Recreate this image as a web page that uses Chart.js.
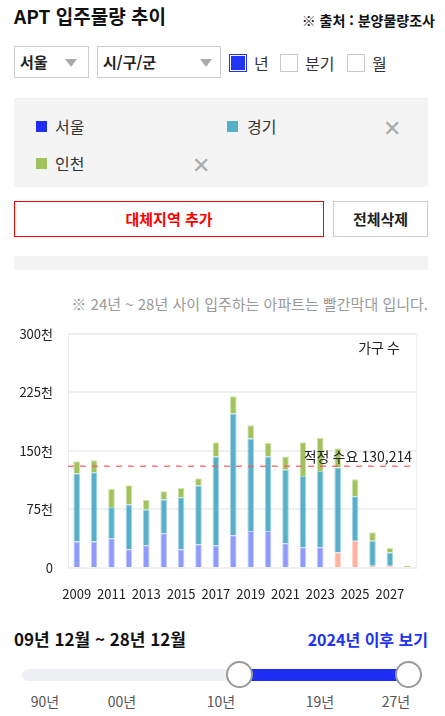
<!DOCTYPE html>
<html lang="ko">
<head>
<meta charset="utf-8">
<title>APT 입주물량 추이</title>
<script src="https://cdn.jsdelivr.net/npm/chart.js@4"></script>
<style>
  body { margin: 0; width: 445px; height: 716px; position: relative; background: #fff;
    font-family: "Noto Sans CJK KR", "Noto Sans", sans-serif; color: #222; overflow: hidden; }
  .abs { position: absolute; }
  .title { left: 14px; top: 2px; font-size: 19px; font-weight: bold; color: #111; }
  .source { right: 10px; top: 10px; font-size: 14px; font-weight: bold; color: #111; }
  .select { border: 1px solid #ccc; height: 32px; top: 46px; box-sizing: border-box; font-size: 15px;
    font-weight: bold; line-height: 30px; padding-left: 5px; }
  .arrow { position: absolute; top: 12px; width: 0; height: 0; border-left: 6px solid transparent;
    border-right: 6px solid transparent; border-top: 8px solid #aaa; }
  .chk { top: 54px; width: 18px; height: 18px; box-sizing: border-box; border: 1px solid #c8c8c8; background: #fff; }
  .chk.on { border: 1px solid #2235f5; background: #2235f5; box-shadow: inset 0 0 0 1px #fff; }
  .chklbl { top: 51px; font-size: 16px; color: #333; }
  .box { left: 14px; width: 414px; background: #f4f4f4; }
  .sq { width: 11px; height: 11px; }
  .lg { font-size: 16px; color: #333; }
  .x { font-size: 22px; color: #aaa; font-weight: 300; }
  .btn { top: 201px; height: 36px; box-sizing: border-box; text-align: center; line-height: 33px;
    font-size: 15px; font-weight: bold; }
  .note { right: 17px; top: 293px; font-size: 15px; color: #999; }
  .range { left: 14px; top: 626px; font-size: 17px; font-weight: bold; color: #111; }
  .after { right: 17px; top: 627px; font-size: 16px; font-weight: bold; color: #2033f0; }
  .track { left: 22px; top: 669px; width: 398px; height: 12px; border-radius: 6px; background: #eef0f3; }
  .fill { left: 240px; top: 669px; width: 168px; height: 12px; background: #1f2ef5; }
  .knob { width: 27px; height: 27px; border-radius: 50%; box-sizing: border-box; border: 2px solid #999;
    background: #fff; top: 661px; }
  .tk { top: 691px; font-size: 14px; color: #555; transform: translateX(-50%); }
  #wrap { position: absolute; left: 0; top: 311px; width: 445px; height: 294px; }
</style>
</head>
<body>
<div class="abs title">APT 입주물량 추이</div>
<div class="abs source">※ 출처 : 분양물량조사</div>

<div class="abs select" style="left:14px;width:75px;">서울<span class="arrow" style="left:50px"></span></div>
<div class="abs select" style="left:97px;width:124px;">시/구/군<span class="arrow" style="left:102px"></span></div>
<div class="abs chk on" style="left:229px"></div><div class="abs chklbl" style="left:254px">년</div>
<div class="abs chk" style="left:280px"></div><div class="abs chklbl" style="left:305px">분기</div>
<div class="abs chk" style="left:347px"></div><div class="abs chklbl" style="left:372px">월</div>

<div class="abs" style="left:14px;top:98px;width:414px;height:1px;background:#eee"></div>
<div class="abs box" style="top:99px;height:88px"></div>
<div class="abs sq" style="left:36px;top:121px;background:#1f2ef5"></div>
<div class="abs lg" style="left:55px;top:114px">서울</div>
<div class="abs sq" style="left:227px;top:121px;background:#58afc8"></div>
<div class="abs lg" style="left:247px;top:114px">경기</div>
<div class="abs x" style="left:383px;top:110px">✕</div>
<div class="abs sq" style="left:36px;top:158px;background:#a2c25c"></div>
<div class="abs lg" style="left:55px;top:151px">인천</div>
<div class="abs x" style="left:192px;top:147px">✕</div>

<div class="abs btn" style="left:14px;width:310px;border:1px solid #f00;color:#f00">대체지역 추가</div>
<div class="abs btn" style="left:333px;width:95px;border:1px solid #ccc;color:#222">전체삭제</div>
<div class="abs box" style="top:256px;height:14px"></div>

<div class="abs note">※ 24년 ~ 28년 사이 입주하는 아파트는 빨간막대 입니다.</div>

<div id="wrap"><canvas id="chart"></canvas></div>

<div class="abs range">09년 12월 ~ 28년 12월</div>
<div class="abs after">2024년 이후 보기</div>
<div class="abs track"></div>
<div class="abs fill"></div>
<div class="abs knob" style="left:226px"></div>
<div class="abs knob" style="left:395px"></div>
<div class="abs tk" style="left:45px">90년</div>
<div class="abs tk" style="left:122px">00년</div>
<div class="abs tk" style="left:221px">10년</div>
<div class="abs tk" style="left:320px">19년</div>
<div class="abs tk" style="left:396px">27년</div>

<script>
var years = ["2009", "2010", "2011", "2012", "2013", "2014", "2015", "2016", "2017", "2018",
  "2019", "2020", "2021", "2022", "2023", "2024", "2025", "2026", "2027", "2028"];
var seoul = [33800, 33800, 38000, 24000, 29000, 44500, 24000, 30400, 29000, 42000,
  47500, 47500, 31700, 26600, 26600, 19700, 35000, 3000, 3000, 0];
var gyeonggi = [87200, 88900, 40200, 57300, 46000, 43200, 66600, 75200, 113800, 156000,
  118500, 95300, 94300, 91400, 97800, 109000, 57000, 32000, 16700, 0];
var incheon = [15800, 15300, 23100, 24700, 12000, 10600, 12000, 9400, 18200, 22000,
  16700, 17200, 16800, 43000, 42600, 24800, 21700, 10800, 5900, 3000];
var demand = 130214;
var futureFrom = 2024;

Chart.defaults.font.family = "'Noto Sans CJK KR', 'Noto Sans', sans-serif";
Chart.defaults.color = "#222";

// seoul bars turn red for the years still to come
var seoulFill = years.map(function (y) { return +y >= futureFrom ? "#ffb3a2" : "#8e9bfa"; });
var seoulLine = years.map(function (y) { return +y >= futureFrom ? "#ffd6cc" : "#c6cdfc"; });

var extras = {
  id: "extras",
  afterDatasetsDraw: function (c) {
    var ctx = c.ctx;
    var a = c.chartArea;
    var y = c.scales.y.getPixelForValue(demand);
    ctx.save();
    ctx.strokeStyle = "#eeeeee";
    ctx.lineWidth = 1;
    ctx.strokeRect(a.left + 0.5, a.top + 0.5, a.right - a.left, a.bottom - a.top);
    ctx.strokeStyle = "rgba(238, 90, 90, 0.8)";
    ctx.lineWidth = 1.5;
    ctx.setLineDash([6, 6]);
    ctx.beginPath();
    ctx.moveTo(a.left, y);
    ctx.lineTo(a.right, y);
    ctx.stroke();
    ctx.setLineDash([]);
    ctx.fillStyle = "#222";
    ctx.font = "14px 'Noto Sans CJK KR', sans-serif";
    ctx.textAlign = "right";
    ctx.textBaseline = "bottom";
    ctx.fillText("적정 수요 " + demand.toLocaleString("en-US"), a.right - 4, y - 3);
    ctx.textBaseline = "top";
    ctx.fillText("가구 수", a.right - 16, a.top + 7);
    ctx.restore();
  },
};

var chart = new Chart(document.getElementById("chart"), {
  type: "bar",
  data: {
    labels: years,
    datasets: [
      { label: "서울", data: seoul, backgroundColor: seoulFill, borderColor: seoulLine, borderWidth: 1 },
      { label: "경기", data: gyeonggi, backgroundColor: "#58afc8", borderColor: "#a8d6e4", borderWidth: 1 },
      { label: "인천", data: incheon, backgroundColor: "#a2c25c", borderColor: "#d2e2ae", borderWidth: 1 },
    ],
  },
  options: {
    responsive: true,
    maintainAspectRatio: false,
    animation: false,
    layout: { padding: { top: 5, right: 29, left: 0, bottom: 0 } },
    datasets: { bar: { categoryPercentage: 1, barPercentage: 0.38 } },
    plugins: { legend: { display: false }, tooltip: { enabled: false } },
    scales: {
      x: {
        stacked: true,
        grid: { display: false },
        border: { display: false },
        afterFit: function (s) { s.height = 37; },
        ticks: {
          autoSkip: false,
          maxRotation: 0,
          padding: 10,
          font: { size: 13 },
          callback: function (v, i) { return i % 2 === 0 ? years[i] : ""; },
        },
      },
      y: {
        stacked: true,
        min: 0,
        max: 300000,
        afterFit: function (s) { s.width = 68; },
        grid: { color: "#f0f0f0", lineWidth: 2, drawTicks: false },
        border: { display: false },
        ticks: {
          stepSize: 75000,
          padding: 15,
          font: { size: 13 },
          callback: function (v) { return v === 0 ? "0" : v / 1000 + "천"; },
        },
      },
    },
  },
  plugins: [extras],
});
</script>
</body>
</html>
